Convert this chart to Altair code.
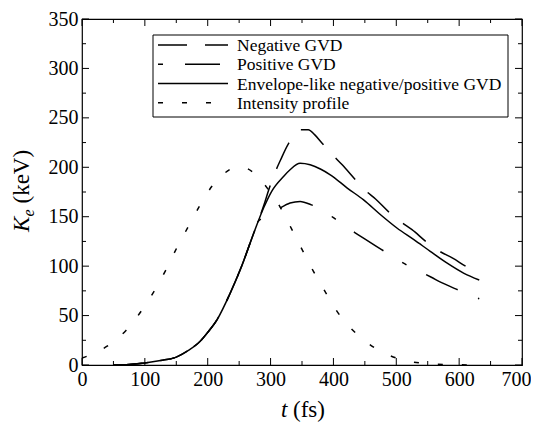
import altair as alt
import pandas as pd

# ---------------- data ----------------
env_t = [50, 75, 100, 125, 150, 170, 188, 200, 215, 236, 254, 273, 289, 302, 321, 331, 347, 363, 380, 395,
         422, 448, 475, 501, 528, 554, 581, 607, 632]
env_k = [0, 0.5, 2, 4.5, 8, 15, 24, 33, 46, 73, 100, 133, 159, 176, 191, 197.5, 204, 202.5, 198, 192.4,
         179, 167, 152, 138.6, 126.8, 115, 103, 93, 86]

neg_t = [50, 75, 100, 125, 150, 170, 188, 200, 215, 236, 254, 273, 280, 289, 297, 306, 316, 329, 339, 347,
         360, 370, 382, 398, 414, 435, 450, 467, 489, 507, 525, 549, 569, 589, 615, 632]
neg_k = [0, 0.5, 2, 4.5, 8, 15, 24, 33, 46, 73, 100, 133, 145, 161, 177, 193, 207.6, 224.4, 232.8, 237.9,
         238, 233, 224.4, 213, 202.5, 187.4, 177, 167.9, 154.3, 145, 136.9, 124, 115, 108.3, 98.2, 93]

pos_t = [50, 75, 100, 125, 150, 170, 188, 200, 215, 236, 254, 273, 280, 289, 297, 306, 316, 331, 347, 365,
         384, 400, 417, 434, 451, 476, 501, 520, 537, 555, 573, 600, 626, 632]
pos_k = [0, 0.5, 2, 4.5, 8, 15, 24, 33, 46, 73, 100, 133, 145, 149, 151, 155, 159, 163.8, 165.5, 162,
         156, 149, 141, 134, 127, 117, 107, 100, 94.7, 89, 83, 75.5, 68.5, 67]

int_t = [0, 20, 40, 70, 97, 117, 135, 152, 170, 188, 207, 225, 240, 255, 272, 297, 316, 334, 350, 368,
         387, 406, 428, 455, 488, 532, 578, 630]
int_k = [7, 12, 19, 35, 57, 77, 98, 120, 141, 162, 181, 193, 199, 200, 195, 177, 159, 137, 117, 95,
         74, 54, 37, 22, 10, 2.5, 0.5, 0]

names = ["Negative GVD", "Positive GVD", "Envelope-like negative/positive GVD", "Intensity profile"]

x_major = [0, 100, 200, 300, 400, 500, 600, 700]
x_minor = [50, 150, 250, 350, 450, 550, 650]
y_major = [0, 50, 100, 150, 200, 250, 300, 350]
y_minor = [25, 75, 125, 175, 225, 275, 325]

# ---------------- styling / layout ----------------
W, H = 440, 346
FONT = "Liberation Serif, Times New Roman, serif"
LW = 1.5
DASH_NEG = [29, 18]
DASH_POS = [35, 22, 5, 22]
DASH_INT = [5, 19]

xs = alt.Scale(domain=[0, 700], nice=False, zero=False)
ys = alt.Scale(domain=[0, 350], nice=False, zero=False)

xaxis = alt.Axis(values=x_major, title=None, ticks=False, tickSize=0, domain=False, grid=False,
                 labelFont=FONT, labelFontSize=20, labelPadding=4, labelColor="black",
                 labelFlush=False, labelOverlap=False, format="d",
                 labelOffset={"condition": {"test": "datum.value == 700", "value": -6}, "value": 0})
yaxis = alt.Axis(values=y_major, title=None, ticks=False, tickSize=0, domain=False, grid=False,
                 labelFont=FONT, labelFontSize=20, labelPadding=4, labelColor="black",
                 labelFlush=False, labelOverlap=False, format="d")

dummy = pd.DataFrame({"a": [0]})


def series(t, k, dash=None):
    df = pd.DataFrame({"t": t, "K": k})
    kw = dict(color="black", strokeWidth=LW, interpolate="monotone")
    if dash:
        kw["strokeDash"] = dash
    return alt.Chart(df).mark_line(**kw).encode(
        x=alt.X("t:Q", scale=xs, axis=xaxis),
        y=alt.Y("K:Q", scale=ys, axis=yaxis),
    )


def ticks(vals, chan, side, length):
    df = pd.DataFrame({"v": vals})
    if chan == "x":
        enc = dict(x=alt.X("v:Q", scale=xs, axis=xaxis))
        if side == "bottom":
            enc.update(y=alt.value(H), y2=alt.value(H - length))
        else:
            enc.update(y=alt.value(0), y2=alt.value(length))
    else:
        enc = dict(y=alt.Y("v:Q", scale=ys, axis=yaxis))
        if side == "left":
            enc.update(x=alt.value(0), x2=alt.value(length))
        else:
            enc.update(x=alt.value(W), x2=alt.value(W - length))
    return alt.Chart(df).mark_rule(color="black", strokeWidth=1).encode(**enc)


layers = [
    series(int_t, int_k, DASH_INT),
    series(pos_t, pos_k, DASH_POS),
    series(neg_t, neg_k, DASH_NEG),
    series(env_t, env_k),
]

MAJ, MIN = 7, 4
for side in ["bottom", "top"]:
    layers.append(ticks(x_major, "x", side, MAJ))
    layers.append(ticks(x_minor, "x", side, MIN))
for side in ["left", "right"]:
    layers.append(ticks(y_major, "y", side, MAJ))
    layers.append(ticks(y_minor, "y", side, MIN))

# legend box
layers.append(
    alt.Chart(dummy).mark_rect(fill="white", stroke="black", strokeWidth=1).encode(
        x=alt.value(71), x2=alt.value(426), y=alt.value(16), y2=alt.value(98)
    )
)
leg_styles = [(DASH_NEG, 0), (DASH_POS, 57), (None, 0), (DASH_INT, 0)]
row_y = [26, 45.3, 64.5, 83.7]
for name, (dash, off), ry in zip(names, leg_styles, row_y):
    kw = dict(color="black", strokeWidth=LW)
    if dash:
        kw["strokeDash"] = dash
        kw["strokeDashOffset"] = off
    layers.append(
        alt.Chart(dummy).mark_rule(**kw).encode(x=alt.value(76), x2=alt.value(146), y=alt.value(ry))
    )
    layers.append(
        alt.Chart(dummy).mark_text(text=name, align="left", baseline="middle", font=FONT,
                                   fontSize=17.5, color="black").encode(x=alt.value(155), y=alt.value(ry + 1))
    )

# axis titles (custom so that italics / subscript are possible)
XT_Y = H + 45
layers.append(alt.Chart(dummy).mark_text(text="t", fontStyle="italic", align="left", baseline="middle",
                                         font=FONT, fontSize=23, color="black")
              .encode(x=alt.value(199), y=alt.value(XT_Y)))
layers.append(alt.Chart(dummy).mark_text(text="(fs)", align="left", baseline="middle",
                                         font=FONT, fontSize=23, color="black")
              .encode(x=alt.value(211), y=alt.value(XT_Y)))

YX = -53.5
YB = 213
layers.append(alt.Chart(dummy).mark_text(text="K", fontStyle="italic", align="left", baseline="alphabetic",
                                         angle=270, font=FONT, fontSize=23, color="black")
              .encode(x=alt.value(YX), y=alt.value(YB)))
layers.append(alt.Chart(dummy).mark_text(text="e", fontStyle="italic", align="left", baseline="alphabetic",
                                         angle=270, font=FONT, fontSize=16, color="black")
              .encode(x=alt.value(YX + 5), y=alt.value(YB - 15.5)))
layers.append(alt.Chart(dummy).mark_text(text="(keV)", align="left", baseline="alphabetic",
                                         angle=270, font=FONT, fontSize=23, color="black")
              .encode(x=alt.value(YX), y=alt.value(YB - 28.5)))

chart = alt.layer(*layers).properties(
    width=W, height=H,
    autosize=alt.AutoSizeParams(type="none"),
    padding={"left": 74, "top": 11, "right": 9, "bottom": 62},
    background="white",
).configure_view(stroke="black", strokeWidth=1.2)

chart.save("out.html", embed_options={"renderer": "svg", "actions": False})
